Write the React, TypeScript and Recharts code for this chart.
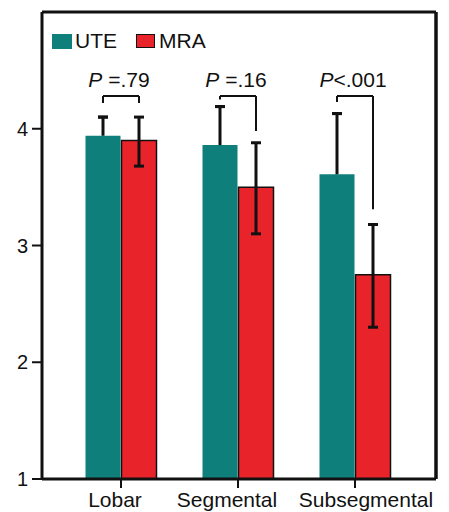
import React from 'react';
import {
  BarChart,
  Bar,
  XAxis,
  YAxis,
  ErrorBar,
  ReferenceLine,
  Legend,
} from 'recharts';

const categories = ['Lobar', 'Segmental', 'Subsegmental'];
const uteMeans = [3.94, 3.86, 3.61];
const uteUpper = [4.10, 4.19, 4.13];
const mraMeans = [3.90, 3.50, 2.75];
const mraLower = [3.68, 3.10, 2.30];
const mraUpper = [4.10, 3.88, 3.18];
const pLabels = ['=.79', '=.16', '<.001'];
const pSpacer = [' ', ' ', ''];
const bracketTop = 4.28;
const uteBracketEnd = [4.22, 4.25, 4.23];
const mraBracketEnd = [4.22, 3.98, 3.31];
const yTicks = [1, 2, 3, 4];

const TEAL = '#0f7f7b';
const RED = '#e8232a';
const INK = '#111';
const FONT = '"Liberation Sans", Arial, Helvetica, sans-serif';
const barSize = 35;
const barGap = 1;

// labels in the original sit a little off their tick marks
const labelShift: Record<string, number> = { Lobar: -6, Segmental: -11, Subsegmental: 11 };

const data = categories.map((name, i) => ({
  name,
  ute: uteMeans[i],
  mra: mraMeans[i],
  uteErr: [0, uteUpper[i] - uteMeans[i]],
  // only the top cap: both ends of this bar sit on the upper bound
  uteCap: [-(uteUpper[i] - uteMeans[i]), uteUpper[i] - uteMeans[i]],
  uteBr: [uteMeans[i] - uteBracketEnd[i], bracketTop - uteMeans[i]],
  mraErr: [mraMeans[i] - mraLower[i], mraUpper[i] - mraMeans[i]],
  mraBr: [mraMeans[i] - mraBracketEnd[i], bracketTop - mraMeans[i]],
}));

const LegendBox = () => (
  <div style={{ display: 'flex', alignItems: 'center', fontFamily: FONT, fontSize: 21, color: INK, lineHeight: '24px' }}>
    <span style={{ display: 'inline-block', width: 20, height: 15, background: TEAL }} />
    <span style={{ marginLeft: 3 }}>UTE</span>
    <span style={{ display: 'inline-block', width: 17, height: 12, background: RED, border: `1.5px solid ${INK}`, marginLeft: 19 }} />
    <span style={{ marginLeft: 4 }}>MRA</span>
  </div>
);

const CategoryTick = (props: any) => {
  const { x, y, payload } = props;
  return (
    <text
      x={x + (labelShift[payload.value] || 0)}
      y={y}
      dy="0.71em"
      textAnchor="middle"
      fontFamily={FONT}
      fontSize={21}
      fill={INK}
    >
      {payload.value}
    </text>
  );
};

const bracketShape = (idx: number) => (props: any) => {
  const { x1, y1 } = props;
  const half = (barSize + barGap) / 2;
  return (
    <g>
      <line x1={x1 - half} x2={x1 + half} y1={y1} y2={y1} stroke={INK} strokeWidth={2} />
      <text x={x1 - 2} y={y1 - 9} textAnchor="middle" fontFamily={FONT} fontSize={21} fill={INK}>
        <tspan fontStyle="italic">P</tspan>
        {pSpacer[idx] + pLabels[idx]}
      </text>
    </g>
  );
};

export default function App() {
  return (
    <div style={{ position: 'absolute', left: 0, top: 0, background: '#fff' }}>
      <BarChart
        width={449}
        height={512}
        data={data}
        margin={{ top: 12, right: 0, bottom: 0, left: 0 }}
        barSize={barSize}
        barGap={barGap}
      >
        <XAxis
          dataKey="name"
          interval={0}
          padding={{ left: 20.5, right: 22.5 }}
          height={33}
          tickSize={9}
          tickMargin={4}
          tick={<CategoryTick />}
          axisLine={{ stroke: INK, strokeWidth: 3 }}
          tickLine={{ stroke: INK, strokeWidth: 2 }}
        />
        <YAxis
          domain={[1, 5]}
          ticks={yTicks}
          allowDataOverflow
          width={42}
          tickSize={10}
          tickMargin={4}
          tick={{ fontSize: 20, fill: INK, fontFamily: FONT }}
          axisLine={{ stroke: INK, strokeWidth: 3 }}
          tickLine={{ stroke: INK, strokeWidth: 2 }}
        />
        <YAxis
          yAxisId="right"
          orientation="right"
          domain={[1, 5]}
          width={13}
          tick={false}
          tickLine={false}
          axisLine={{ stroke: INK, strokeWidth: 3.5 }}
        />
        <ReferenceLine y={5} stroke={INK} strokeWidth={3} />
        <Legend
          layout="horizontal"
          verticalAlign="middle"
          align="center"
          content={() => <LegendBox />}
          wrapperStyle={{ top: 29, left: 52, width: 220, height: 24 }}
        />
        <Bar dataKey="ute" name="UTE" fill={TEAL} isAnimationActive={false}>
          <ErrorBar dataKey="uteErr" width={0} stroke={INK} strokeWidth={3} isAnimationActive={false} />
          <ErrorBar dataKey="uteCap" width={5} stroke={INK} strokeWidth={3} isAnimationActive={false} />
          <ErrorBar dataKey="uteBr" width={0} stroke={INK} strokeWidth={2} isAnimationActive={false} />
        </Bar>
        <Bar dataKey="mra" name="MRA" fill={RED} stroke={INK} strokeWidth={1.5} isAnimationActive={false}>
          <ErrorBar dataKey="mraErr" width={5} stroke={INK} strokeWidth={3} isAnimationActive={false} />
          <ErrorBar dataKey="mraBr" width={0} stroke={INK} strokeWidth={2} isAnimationActive={false} />
        </Bar>
        {categories.map((c, i) => (
          <ReferenceLine
            key={c}
            segment={[{ x: c, y: bracketTop }, { x: c, y: bracketTop }]}
            position="middle"
            shape={bracketShape(i)}
          />
        ))}
      </BarChart>
    </div>
  );
}
